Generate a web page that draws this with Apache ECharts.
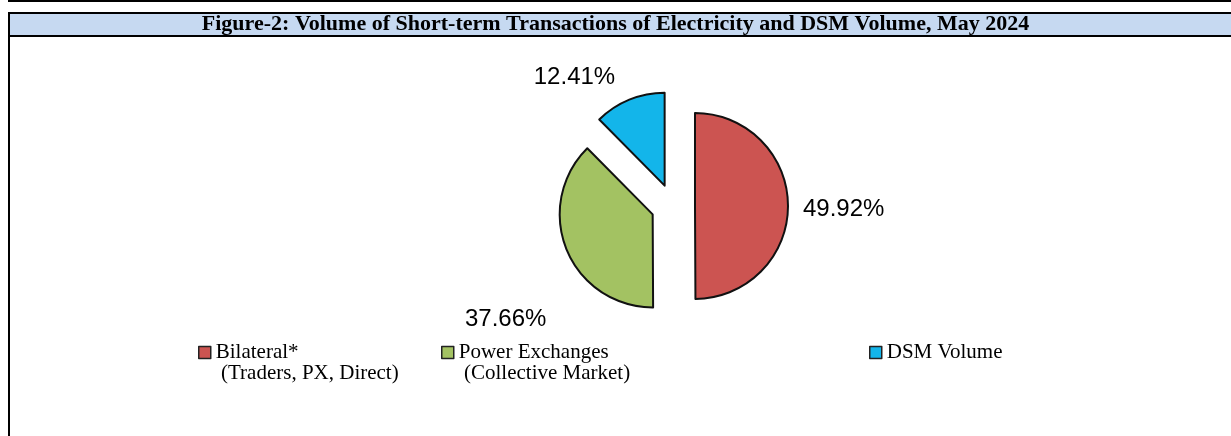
<!DOCTYPE html>
<html>
<head>
<meta charset="utf-8">
<script src="https://cdn.jsdelivr.net/npm/echarts@6/dist/echarts.min.js"></script>
<style>
  html, body { margin: 0; padding: 0; background: #fff; }
  #chart { width: 1231px; height: 436px; }
</style>
</head>
<body>
<div id="chart"></div>
<script>
// data
const categories = ['Bilateral*', 'Power Exchanges', 'DSM Volume'];
const subLabels = ['(Traders, PX, Direct)', '(Collective Market)', ''];
const shares = [49.92, 37.66, 12.41];
const colors = ['#cc5451', '#a3c262', '#13b5ea'];

const chart = echarts.init(document.getElementById('chart'), null, { renderer: 'canvas' });

// per-slice label tweaks (Excel puts them in odd spots)
const labelLen = [8, 8, 24];
const labelLen2 = [4, 4, 2];
const labelDx = [0, -6, 0];
const labelDy = [4, 66, 0];

function legendFor(i, left) {
  return {
    left: left,
    top: 316,
    orient: 'horizontal',
    icon: 'rect',
    itemWidth: 12,
    itemHeight: 12,
    itemGap: 0,
    padding: 5,
    data: [categories[i]],
    // empty first line so the marker sits next to the first text line
    formatter: (name) => '\n' + name + '\n ' + subLabels[categories.indexOf(name)],
    itemStyle: { borderColor: '#222', borderWidth: 1.5 },
    textStyle: {
      fontFamily: 'Liberation Serif',
      fontSize: 21,
      color: '#000',
      lineHeight: 21,
    },
  };
}

const option = {
  animation: false,
  backgroundColor: '#ffffff',
  title: {
    text: 'Figure-2: Volume of Short-term Transactions of Electricity and DSM Volume, May 2024',
    left: 'center',
    top: 13,
    padding: 0,
    textStyle: {
      fontFamily: 'Liberation Serif',
      fontWeight: 'bold',
      fontSize: 22,
      lineHeight: 23,
      color: '#000',
    },
  },
  graphic: [
    // top rule, title band, left rule
    { type: 'rect', z: -1, shape: { x: 8, y: 0, width: 1223, height: 2 }, style: { fill: '#000' } },
    { type: 'rect', z: -1, shape: { x: 9, y: 13, width: 1225, height: 23 }, style: { fill: '#c6d9f1', stroke: '#000', lineWidth: 2 } },
    { type: 'line', z: -1, shape: { x1: 9, y1: 13, x2: 9, y2: 436 }, style: { stroke: '#000', lineWidth: 2 } },
  ],
  legend: [legendFor(0, 193), legendFor(1, 436), legendFor(2, 864)],
  series: [
    {
      type: 'pie',
      center: [673, 206],
      radius: 93,
      startAngle: 90,
      clockwise: true,
      selectedMode: 'multiple',
      selectedOffset: 22,
      avoidLabelOverlap: false,
      emphasis: { disabled: true },
      itemStyle: { borderColor: '#111', borderWidth: 2 },
      label: {
        show: true,
        position: 'outside',
        formatter: (p) => p.value.toFixed(2) + '%',
        fontFamily: 'Liberation Sans',
        fontSize: 24,
        color: '#000',
        distanceToLabelLine: 3,
      },
      labelLine: { show: false },
      labelLayout: (params) => ({ dx: labelDx[params.dataIndex], dy: labelDy[params.dataIndex] }),
      data: categories.map((name, i) => ({
        name: name,
        value: shares[i],
        selected: true,
        itemStyle: { color: colors[i] },
        labelLine: { show: false, length: labelLen[i], length2: labelLen2[i] },
      })),
    },
  ],
};

chart.setOption(option);
</script>
</body>
</html>
